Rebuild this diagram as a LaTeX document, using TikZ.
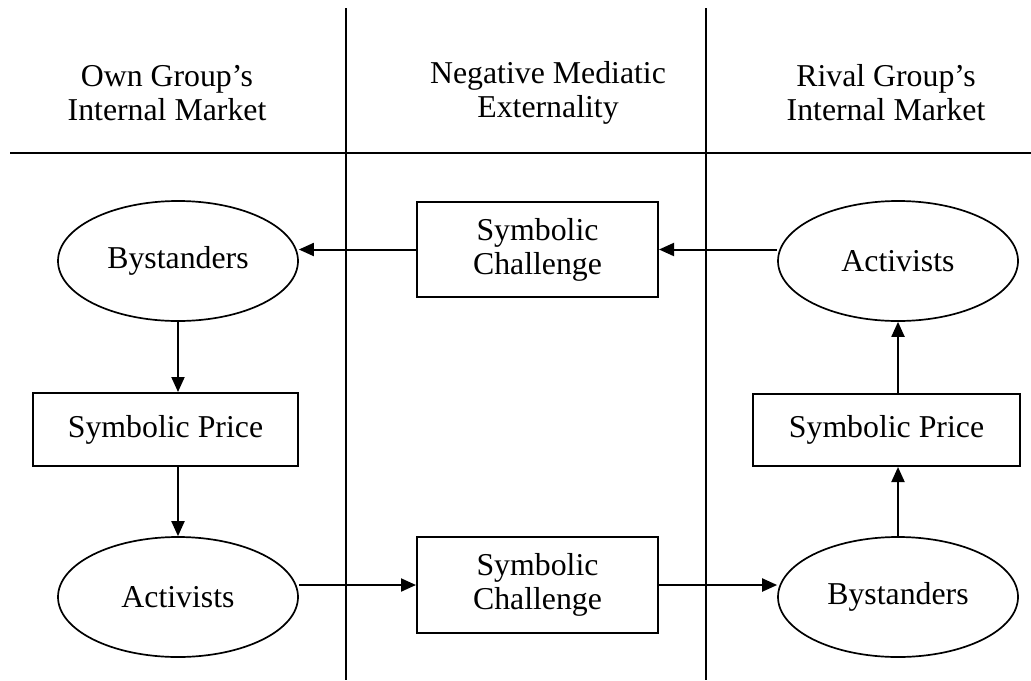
\documentclass[tikz,border=0pt]{standalone}
\usepackage{fontspec}
\setmainfont{Liberation Serif}
\usetikzlibrary{
    arrows.meta,
    shapes.geometric,
    positioning
}

\tikzset{
    market/.style={draw, ellipse, line width=0.85pt, minimum width=120pt, minimum height=60pt, inner sep=0pt},
    flowbox/.style={draw, rectangle, line width=1pt, align=center, inner sep=0pt},
    header/.style={align=center},
    arr/.style={-{Triangle[length=7.5pt, width=6.5pt]}, line width=1pt},
    divider/.style={line width=1pt}
}

\begin{document}
\begin{tikzpicture}[x=0.5pt, y=-0.5pt, every node/.style={font=\fontsize{15.9pt}{17pt}\selectfont}]
                        \useasboundingbox (0, 0) rectangle (1031, 680);

                        \draw[divider]
                        (346, 8) -- (346, 680)
                        (706, 8) -- (706, 680)
                        (10, 153) -- (1031, 153);

                        \node[header] (ownHead) at (167, 93) {Own Group's\\Internal Market};
                        \node[header] (medHead) at (548, 93) {Negative Mediatic\\Externality};
                        \node[header] (rivHead) at (886, 93) {Rival Group's\\Internal Market};

                        \node[market] (ownBys) at (178, 261) {Bystanders};
                        \node[flowbox, minimum width=132.5pt, minimum height=36.5pt] (ownPrice) at (165.5, 429.5) {Symbolic Price};
                        \node[market] (ownAct) at (178, 597) {Activists};
                        \node[flowbox, minimum width=120.5pt, minimum height=47.5pt] (chalTop) at (537.5, 249.5) {Symbolic\\Challenge};
                        \node[flowbox, minimum width=120.5pt, minimum height=48pt] (chalBot) at (537.5, 585) {Symbolic\\Challenge};
                        \node[market] (rivAct) at (898, 261) {Activists};
                        \node[flowbox, minimum width=133.5pt, minimum height=36pt] (rivPrice) at (886.5, 430) {Symbolic Price};
                        \node[market] (rivBys) at (898, 597) {Bystanders};

                        \draw[arr] (rivAct.west |- chalTop.east) -- (chalTop.east);
                        \draw[arr] (chalTop.west) -- (chalTop.west -| ownBys.east);
                        \draw[arr] (ownBys.south) -- (ownBys.south |- ownPrice.north);
                        \draw[arr] (ownPrice.south -| ownAct.north) -- (ownAct.north);
                        \draw[arr] (ownAct.east |- chalBot.west) -- (chalBot.west);
                        \draw[arr] (chalBot.east) -- (chalBot.east -| rivBys.west);
                        \draw[arr] (rivBys.north) -- (rivBys.north |- rivPrice.south);
                        \draw[arr] (rivPrice.north -| rivAct.south) -- (rivAct.south);
                    \end{tikzpicture}
\end{document}
